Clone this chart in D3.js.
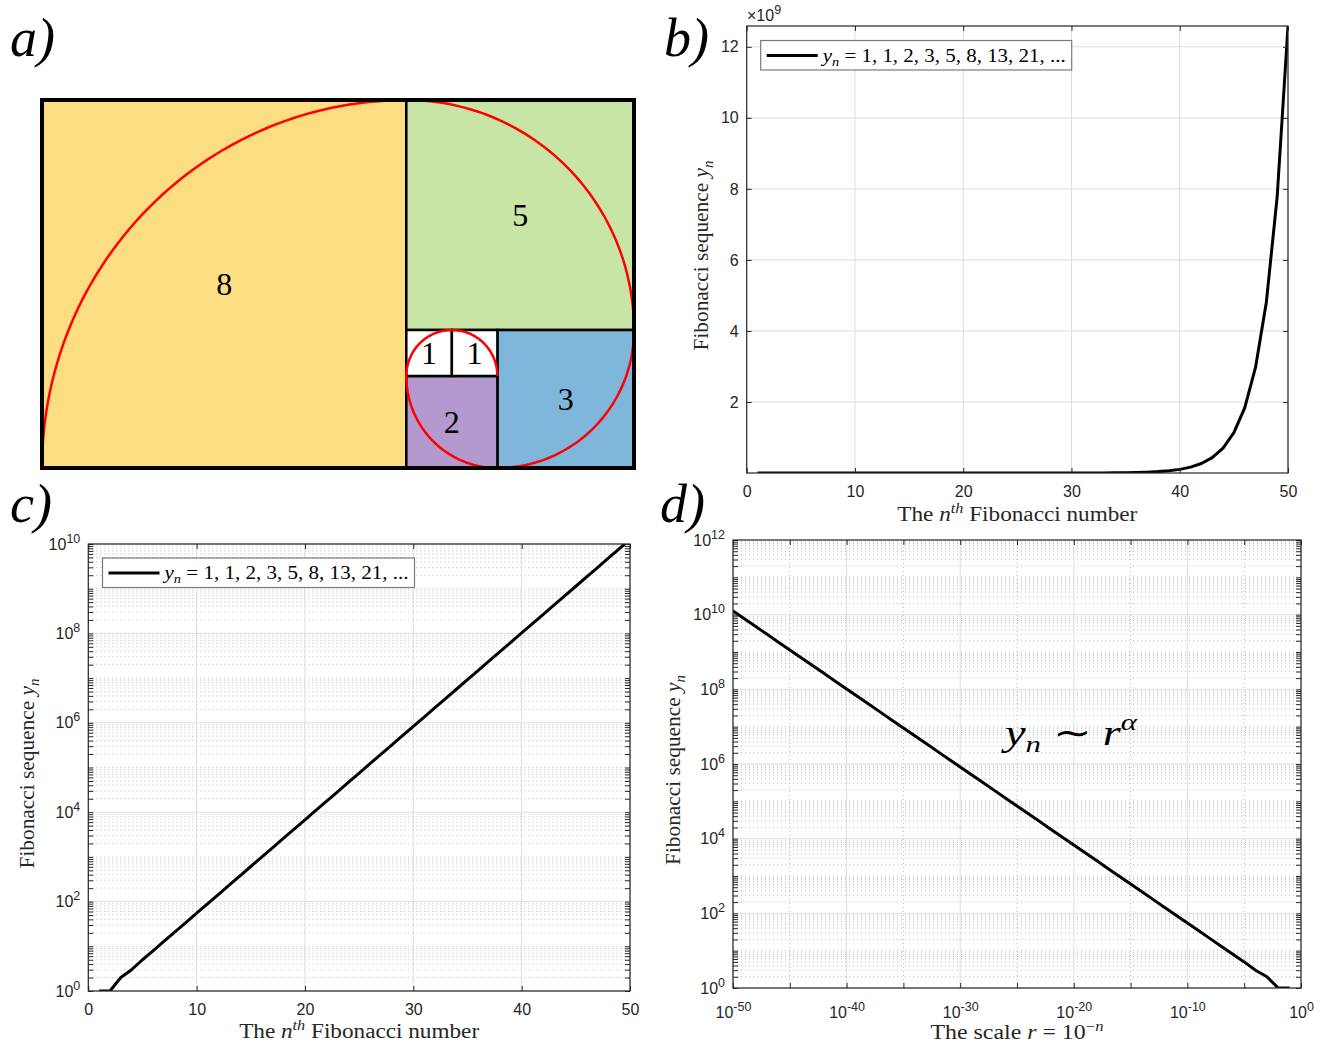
<!DOCTYPE html>
<html>
<head>
<meta charset="utf-8">
<script src="https://cdn.jsdelivr.net/npm/d3@7"></script>
<style>
  body { margin: 0; background: #fff; }
  .tick text { font-family: "Liberation Sans", Arial, sans-serif; font-size: 16px; fill: #262626; }
  .tick line { stroke: #262626; }
  .tex { font-family: "Liberation Serif", "Times New Roman", serif; fill: #262626; }
</style>
</head>
<body>
<svg id="fig" width="1325" height="1045"></svg>
<script>
// Fibonacci numbers y_n for n = 1..50
const fibValues = [1, 1, 2, 3, 5, 8, 13, 21, 34, 55, 89, 144, 233, 377, 610, 987, 1597, 2584, 4181, 6765,
    10946, 17711, 28657, 46368, 75025, 121393, 196418, 317811, 514229, 832040, 1346269, 2178309,
    3524578, 5702887, 9227465, 14930352, 24157817, 39088169, 63245986, 102334155, 165580141,
    267914296, 433494437, 701408733, 1134903170, 1836311903, 2971215073, 4807526976, 7778742049,
    12586269025]
const nth = d3.range(1, 51)

// panel a: golden rectangle squares
const squareSizes = [8, 5, 3, 2, 1, 1]
const squareColors = ["#fddd82", "#c9e5a6", "#7fb6db", "#b399cd", "#ffffff", "#ffffff"]

// tick labels
const bXTicks = [0, 10, 20, 30, 40, 50]
const bYTicks = [2e9, 4e9, 6e9, 8e9, 10e9, 12e9]
const cXTicks = [0, 10, 20, 30, 40, 50]
const cYExp = [0, 2, 4, 6, 8, 10]
const dXExp = [-50, -40, -30, -20, -10, 0]
const dXMinorExp = [-45, -35, -25, -15, -5]
const dYExp = [0, 2, 4, 6, 8, 10, 12]
const legendTail = " = 1, 1, 2, 3, 5, 8, 13, 21, ..."

const svg = d3.select("#fig")
const ink = "#262626"

// ---------- panel a ----------
const ax = d3.scaleLinear().domain([0, 13]).range([42, 634])
const ay = d3.scaleLinear().domain([0, 8]).range([100, 468])

let region = { x: 0, y: 0, w: 13, h: 8 }
const tiles = squareSizes.map((s, i) => {
    const dir = i % 4 // left, top, right, bottom
    let t
    if (dir === 0) { t = { x: region.x, y: region.y }; region = { x: region.x + s, y: region.y, w: region.w - s, h: region.h } }
    else if (dir === 1) { t = { x: region.x, y: region.y }; region = { x: region.x, y: region.y + s, w: region.w, h: region.h - s } }
    else if (dir === 2) { t = { x: region.x + region.w - s, y: region.y }; region = { x: region.x, y: region.y, w: region.w - s, h: region.h } }
    else { t = { x: region.x, y: region.y + region.h - s }; region = { x: region.x, y: region.y, w: region.w, h: region.h - s } }
    return {
        s, i, x: t.x, y: t.y, color: squareColors[i],
        cx: t.x + ((dir === 0 || dir === 3) ? s : 0),
        cy: t.y + ((dir === 0 || dir === 1) ? s : 0),
        a0: Math.PI * (1 + i / 2)
    }
})

const pa = svg.append("g")
pa.selectAll(".sq").data(tiles).enter().append("rect")
    .attr("x", d => ax(d.x)).attr("y", d => ay(d.y))
    .attr("width", d => ax(d.x + d.s) - ax(d.x)).attr("height", d => ay(d.y + d.s) - ay(d.y))
    .style("fill", d => d.color).style("stroke", "#000").style("stroke-width", 2.5)

pa.selectAll(".num").data(tiles).enter().append("text")
    .attr("x", d => ax(d.x + d.s / 2)).attr("y", d => ay(d.y + d.s / 2))
    .attr("text-anchor", "middle").attr("dominant-baseline", "central")
    .style("font-family", "'Liberation Serif', serif").style("font-size", "32px").style("fill", "#000")
    .text(d => d.s)

const arcLine = d3.line().x(p => ax(p[0])).y(p => ay(p[1]))
pa.selectAll(".arc").data(tiles).enter().append("path")
    .attr("d", d => arcLine(d3.range(0, 61).map(k => {
        const a = d.a0 + (k / 60) * Math.PI / 2
        return [d.cx + d.s * Math.cos(a), d.cy + d.s * Math.sin(a)]
    })))
    .style("fill", "none").style("stroke", "#ff0000").style("stroke-width", 2.5)

pa.append("rect").attr("x", ax(0)).attr("y", ay(0))
    .attr("width", ax(13) - ax(0)).attr("height", ay(8) - ay(0))
    .style("fill", "none").style("stroke", "#000").style("stroke-width", 4)

// ---------- helpers ----------
function pow10(sel) {
    sel.each(function (d) {
        const t = d3.select(this)
        const e = Math.round(Math.log10(d))
        t.text("10")
        t.append("tspan").attr("dy", "-7").style("font-size", "12.5px").text(e)
    })
}

function hLines(g, vals, x, y, cls) {
    g.selectAll("." + cls).data(vals).enter().append("line").attr("class", cls)
        .attr("x1", x.range()[0]).attr("x2", x.range()[1])
        .attr("y1", d => y(d)).attr("y2", d => y(d))
}
function vLines(g, vals, x, y, cls) {
    g.selectAll("." + cls).data(vals).enter().append("line").attr("class", cls)
        .attr("y1", y.range()[0]).attr("y2", y.range()[1])
        .attr("x1", d => x(d)).attr("x2", d => x(d))
}

function panel(cfg) {
    const { x, y } = cfg
    const [left, right] = x.range()
    const [bottom, top] = y.range()
    const g = svg.append("g")

    svg.append("clipPath").attr("id", cfg.id).append("rect")
        .attr("x", left).attr("y", top).attr("width", right - left).attr("height", bottom - top)

    const minor = g.append("g").style("stroke", "#bdbdbd").style("stroke-width", 1).style("stroke-dasharray", "1,3")
    if (cfg.yMinor) hLines(minor, cfg.yMinor, x, y, "ym")
    if (cfg.xMinor) vLines(minor, cfg.xMinor, x, y, "xm")
    const major = g.append("g").style("stroke", "#dedede").style("stroke-width", 1)
    hLines(major, cfg.yTicks, x, y, "yg")
    vLines(major, cfg.xTicks, x, y, "xg")

    g.append("path").datum(cfg.points)
        .attr("clip-path", "url(#" + cfg.id + ")")
        .attr("d", d3.line().x(p => x(p[0])).y(p => y(p[1])))
        .style("fill", "none").style("stroke", "#000").style("stroke-width", 3).style("stroke-linejoin", "round")

    // ticks on all four sides, pointing inward
    const xb = g.append("g").attr("transform", `translate(0,${bottom})`)
        .call(d3.axisBottom(x).tickValues(cfg.xTicks).tickSizeInner(-5).tickSizeOuter(0).tickPadding(13).tickFormat(cfg.xFormat || d3.format("d")))
    const yl = g.append("g").attr("transform", `translate(${left},0)`)
        .call(d3.axisLeft(y).tickValues(cfg.yTicks).tickSizeInner(-5).tickSizeOuter(0).tickPadding(8).tickFormat(cfg.yFormat || d3.format("d")))
    g.append("g").attr("transform", `translate(0,${top})`)
        .call(d3.axisTop(x).tickValues(cfg.xTicks).tickSizeInner(-5).tickSizeOuter(0).tickFormat(""))
    g.append("g").attr("transform", `translate(${right},0)`)
        .call(d3.axisRight(y).tickValues(cfg.yTicks).tickSizeInner(-5).tickSizeOuter(0).tickFormat(""))
    if (cfg.yMinor) {
        g.append("g").attr("transform", `translate(${left},0)`)
            .call(d3.axisLeft(y).tickValues(cfg.yMinor).tickSizeInner(-5).tickSizeOuter(0).tickFormat(""))
        g.append("g").attr("transform", `translate(${right},0)`)
            .call(d3.axisRight(y).tickValues(cfg.yMinor).tickSizeInner(-5).tickSizeOuter(0).tickFormat(""))
    }
    if (cfg.xMinor) {
        g.append("g").attr("transform", `translate(0,${bottom})`)
            .call(d3.axisBottom(x).tickValues(cfg.xMinor).tickSizeInner(-5).tickSizeOuter(0).tickFormat(""))
        g.append("g").attr("transform", `translate(0,${top})`)
            .call(d3.axisTop(x).tickValues(cfg.xMinor).tickSizeInner(-5).tickSizeOuter(0).tickFormat(""))
    }
    g.selectAll(".domain").remove()
    if (cfg.xPow) xb.selectAll(".tick text").call(pow10).attr("dy", "1.05em")
    if (cfg.yPow) yl.selectAll(".tick text").call(pow10)

    g.append("rect").attr("x", left).attr("y", top).attr("width", right - left).attr("height", bottom - top)
        .style("fill", "none").style("stroke", ink).style("stroke-width", 1.2)

    // axis labels
    const xl = g.append("text").attr("class", "tex")
        .attr("x", (left + right) / 2).attr("y", cfg.xLabelY)
        .attr("text-anchor", "middle").style("font-size", "20px")
        .attr("textLength", cfg.xLabelW).attr("lengthAdjust", "spacingAndGlyphs")
    cfg.xLabel(xl)

    const ylab = g.append("text").attr("class", "tex")
        .attr("transform", `translate(${cfg.yLabelX},${(top + bottom) / 2 + 6}) rotate(-90)`)
        .attr("text-anchor", "middle").style("font-size", "20px")
        .attr("textLength", 190).attr("lengthAdjust", "spacingAndGlyphs")
    ylab.append("tspan").text("Fibonacci sequence ")
    ylab.append("tspan").style("font-style", "italic").text("y")
    ylab.append("tspan").style("font-style", "italic").style("font-size", "14px").attr("dy", "5").text("n")

    if (cfg.legend) {
        const L = cfg.legend
        const lg = g.append("g")
        lg.append("rect").attr("x", L.x).attr("y", L.y).attr("width", L.w).attr("height", 29.5)
            .style("fill", "#fff").style("stroke", "#7a7a7a").style("stroke-width", 1.2)
        lg.append("line").attr("x1", L.x + 6).attr("x2", L.x + 57).attr("y1", L.y + 15).attr("y2", L.y + 15)
            .style("stroke", "#000").style("stroke-width", 3)
        const lt = lg.append("text").attr("class", "tex").attr("x", L.x + 62).attr("y", L.y + 21)
            .style("font-size", "19px").style("fill", "#000")
            .attr("textLength", L.w - 68).attr("lengthAdjust", "spacingAndGlyphs")
        lt.append("tspan").style("font-style", "italic").text("y")
        lt.append("tspan").style("font-style", "italic").style("font-size", "13px").attr("dy", "4").text("n")
        lt.append("tspan").attr("dy", "-4").text(legendTail)
    }
    return g
}

function nthLabel(t) {
    t.append("tspan").text("The ")
    t.append("tspan").style("font-style", "italic").text("n")
    t.append("tspan").style("font-style", "italic").style("font-size", "14px").attr("dy", "-8").text("th")
    t.append("tspan").attr("dy", "8").text(" Fibonacci number")
}

// ---------- panel b ----------
const bx = d3.scaleLinear().domain([0, 50]).range([746.7, 1288])
const by = d3.scaleLinear().domain([1, fibValues[49]]).range([473, 26])
panel({
    id: "clipB", x: bx, y: by, xTicks: bXTicks, yTicks: bYTicks,
    yFormat: d => d / 1e9,
    points: nth.map((n, i) => [n, fibValues[i]]),
    xLabel: nthLabel, xLabelY: 521, xLabelW: 240, yLabelX: 708,
    legend: { x: 760.7, y: 40.5, w: 311 }
})
const expo = svg.append("text").attr("x", 747).attr("y", 21)
    .style("font-family", "'Liberation Sans', Arial, sans-serif").style("font-size", "16px").style("fill", ink)
expo.append("tspan").text("\u00d710")
expo.append("tspan").attr("dy", "-7").style("font-size", "12.5px").text("9")

// ---------- panel c ----------
const cx = d3.scaleLinear().domain([0, 50]).range([88.3, 630])
const cy = d3.scaleLog().domain([1, 1e10]).range([991, 544])
const cMinor = []
d3.range(0, 10).forEach(k => {
    if (k % 2 === 1) cMinor.push(Math.pow(10, k))
    d3.range(2, 10).forEach(m => cMinor.push(m * Math.pow(10, k)))
})
panel({
    id: "clipC", x: cx, y: cy, xTicks: cXTicks, yTicks: cYExp.map(e => Math.pow(10, e)), yMinor: cMinor,
    yPow: true,
    points: nth.map((n, i) => [n, fibValues[i]]),
    xLabel: nthLabel, xLabelY: 1038, xLabelW: 240, yLabelX: 34,
    legend: { x: 102.5, y: 558, w: 312 }
})

// ---------- panel d ----------
const dx = d3.scaleLog().domain([1e-50, 1]).range([733, 1301])
const dy = d3.scaleLog().domain([1, 1e12]).range([988, 540])
const dMinor = []
d3.range(0, 12).forEach(k => {
    if (k % 2 === 1) dMinor.push(Math.pow(10, k))
    d3.range(2, 10).forEach(m => dMinor.push(m * Math.pow(10, k)))
})
panel({
    id: "clipD", x: dx, y: dy,
    xTicks: dXExp.map(e => Math.pow(10, e)), xMinor: dXMinorExp.map(e => Math.pow(10, e)),
    yTicks: dYExp.map(e => Math.pow(10, e)), yMinor: dMinor,
    xPow: true, yPow: true,
    points: nth.map((n, i) => [Math.pow(10, -n), fibValues[i]]),
    xLabel: t => {
        t.append("tspan").text("The scale ")
        t.append("tspan").style("font-style", "italic").text("r")
        t.append("tspan").text(" = 10")
        t.append("tspan").style("font-size", "14px").attr("dy", "-8").text("\u2212")
        t.append("tspan").style("font-size", "14px").style("font-style", "italic").text("n")
    },
    xLabelY: 1039, xLabelW: 173, yLabelX: 680
})

const ann = svg.append("text").attr("class", "tex").attr("x", 1005).attr("y", 745)
    .style("font-size", "36px").style("fill", "#000")
    .attr("textLength", 132).attr("lengthAdjust", "spacingAndGlyphs")
ann.append("tspan").style("font-style", "italic").text("y")
ann.append("tspan").style("font-style", "italic").style("font-size", "24px").attr("dy", "7").text("n")
ann.append("tspan").attr("dy", "-7").text(" \u223c ")
ann.append("tspan").style("font-style", "italic").text("r")
ann.append("tspan").style("font-style", "italic").style("font-size", "24px").attr("dy", "-15").text("\u03b1")

// ---------- panel letters ----------
const letters = [["a", 10, 56], ["b", 664, 56], ["c", 10, 522], ["d", 660, 522]]
svg.selectAll(".letter").data(letters).enter().append("text")
    .attr("x", d => d[1]).attr("y", d => d[2])
    .style("font-family", "'Liberation Serif', serif").style("font-style", "italic")
    .style("font-size", "54px").style("fill", "#000")
    .text(d => d[0] + ")")
</script>
</body>
</html>
